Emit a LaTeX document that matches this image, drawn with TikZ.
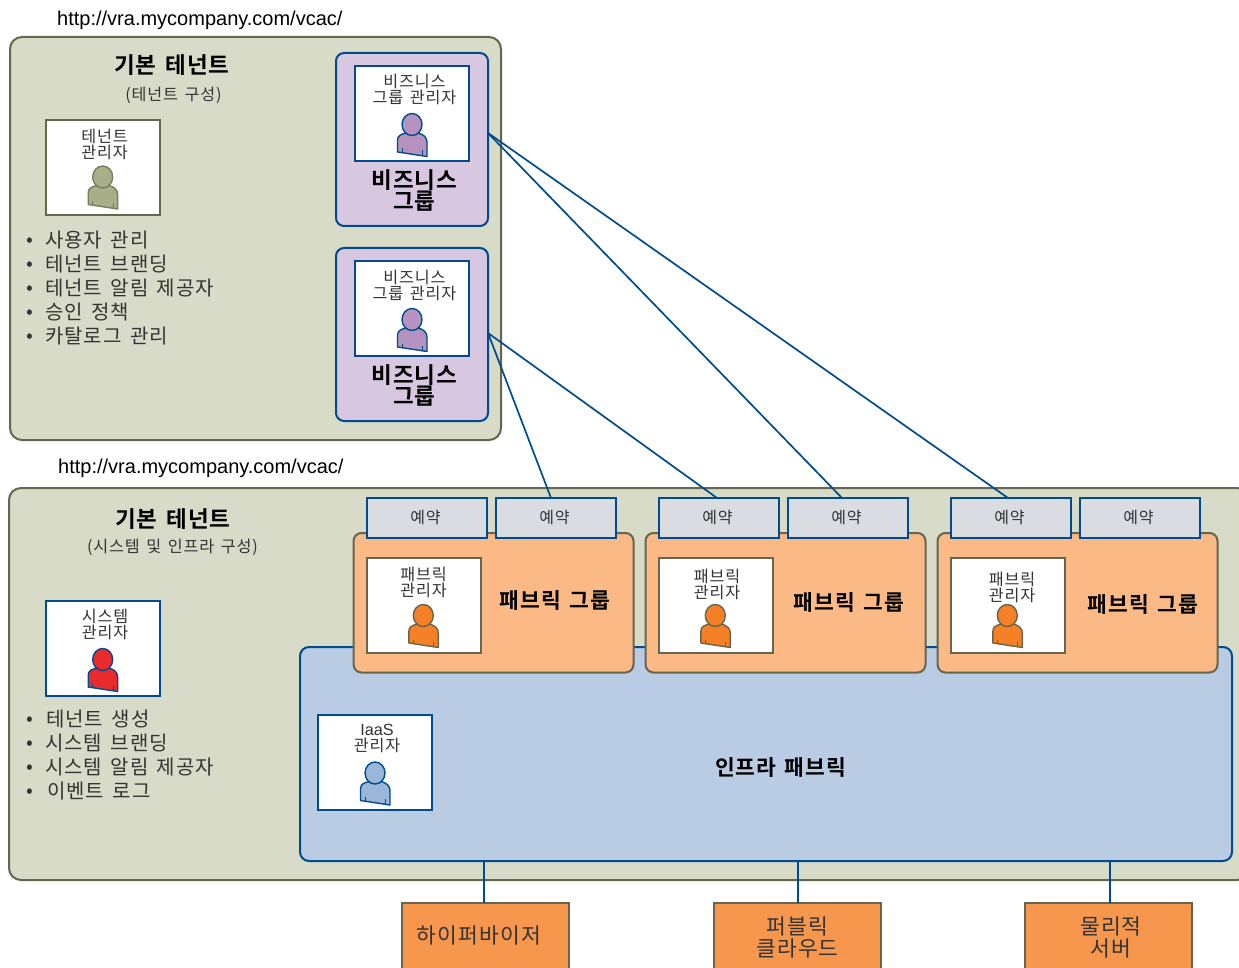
\documentclass[tikz,border=0pt]{standalone}
\usepackage{fontspec}
\setmainfont{Noto Sans CJK KR}[LetterSpace=5,WordSpace=1.5]
\newfontfamily\urlfont{Liberation Sans}
\newfontfamily\krb[BoldFont={Noto Sans CJK KR Bold},LetterSpace=4,WordSpace=1.5]{Noto Sans CJK KR}
\definecolor{tenantfill}{HTML}{D8DBC8}
\definecolor{olive}{HTML}{66664F}
\definecolor{navy}{HTML}{004B8D}
\definecolor{purplefill}{HTML}{D7C7E1}
\definecolor{orangefill}{HTML}{FBB986}
\definecolor{resfill}{HTML}{D9DDE1}
\definecolor{bluefill}{HTML}{B9CCE4}
\definecolor{boxfill}{HTML}{F7974D}
\definecolor{pOlive}{HTML}{A8AE87}
\definecolor{pPurple}{HTML}{B692C1}
\definecolor{pOrange}{HTML}{F58025}
\definecolor{pRed}{HTML}{E92B2E}
\definecolor{pBlue}{HTML}{9AB7D9}
\definecolor{ink}{HTML}{333333}
\tikzset{
  x=1pt,y=-1pt,
  panel/.style={rectangle,rounded corners=#1,draw=olive,fill=tenantfill,line width=2pt,outer sep=0pt,inner sep=0pt},
  bizgroup/.style={rectangle,rounded corners=8pt,draw=navy,fill=purplefill,line width=2pt,minimum width=152pt,minimum height=173pt,outer sep=0pt},
  fabgroup/.style={rectangle,rounded corners=8pt,draw=olive,fill=orangefill,line width=2pt,minimum width=280pt,minimum height=139.5pt,outer sep=0pt},
  infra/.style={rectangle,rounded corners=9pt,draw=navy,fill=bluefill,line width=2pt,minimum width=932pt,minimum height=214pt,outer sep=0pt},
  mgrbox/.style={rectangle,draw=#1,fill=white,line width=2pt,minimum width=114pt,minimum height=95pt,outer sep=0pt},
  resbox/.style={rectangle,draw=navy,fill=resfill,line width=2pt,minimum width=120.5pt,minimum height=40pt,outer sep=0pt,
     font=\fontsize{16}{16}\selectfont,text=ink,inner sep=0pt},
  resource/.style={rectangle,draw=olive,fill=boxfill,line width=2pt,minimum width=167pt,minimum height=80pt,outer sep=0pt},
  conn/.style={draw=navy,line width=1.7pt},
  small/.style={font=\fontsize{16.2}{16}\selectfont,text=ink,align=center,inner sep=0pt},
  head/.style={font=\krb\bfseries\fontsize{22.5}{21.5}\selectfont,text=black,align=center,inner sep=0pt},
  headb/.style={font=\krb\bfseries\fontsize{21.5}{22}\selectfont,text=black,align=center,inner sep=0pt},
  urltext/.style={font=\urlfont\fontsize{20}{22}\selectfont,text=black,inner sep=0pt},
  listtext/.style={font=\fontsize{20}{24}\selectfont,text=ink,align=left,anchor=north west,inner sep=0pt},
  restext/.style={font=\fontsize{21.5}{22.5}\selectfont,text=ink,align=center,inner sep=0pt},
  pics/person/.style 2 args={code={
    \draw[fill=#1,draw=#2,line width=1.4pt,line join=round]
      (-14.5,27.5) -- (-14.5,16) .. controls (-14.5,11) and (-11,9.5) .. (-5,8.5)
      -- (6,8.5) .. controls (12,10) and (15,13) .. (15,18) -- (15,32) -- cycle;
    \draw[draw=#2,line width=0.7pt] (-10,24) -- (-10,28.2) (10.5,26) -- (10.5,31.5);
    \draw[fill=#1,draw=#2,line width=1.4pt] (0,0) ellipse [x radius=10,y radius=11];
  }}
}
\newcommand{\itemline}[1]{\hbox to 19pt{\raisebox{1pt}{•}\hss}#1}
\begin{document}
\begin{tikzpicture}
\useasboundingbox (0,0) rectangle (1239,968);
\fill[white] (0,0) rectangle (1239,968);

% top tenant
\node[urltext,anchor=west] (url1) at (57,20) {http://vra.mycompany.com/vcac/};
\node[panel=12pt,minimum width=491pt,minimum height=403pt] (tenant1) at (255.5,238.5) {};
\node[head] (t1title) at (172,65.5) {기본 테넌트};
\node[small] (t1sub) at (173.5,95.5) {(테넌트 구성)};
\node[mgrbox=olive] (tmgr) at (103,167.5) {};
\node[small] (tmgrtext) at (104.5,144) {테넌트\\관리자};
\pic at (102.7,177) {person={pOlive}{olive!70!pOlive}};
\node[listtext] (t1list) at (26,230.5) {\itemline{사용자 관리}\\\itemline{테넌트 브랜딩}\\\itemline{테넌트 알림 제공자}\\\itemline{승인 정책}\\\itemline{카탈로그 관리}};

\node[bizgroup] (bg1) at (412,139.5) {};
\node[mgrbox=navy] (bg1m) at (412,113.5) {};
\node[small] (bg1mt) at (414.5,89) {비즈니스\\그룹 관리자};
\pic at (412,124.5) {person={pPurple}{navy}};
\node[head] (bg1t) at (414.5,190.5) {비즈니스\\그룹};

\node[bizgroup] (bg2) at (412,334.5) {};
\node[mgrbox=navy] (bg2m) at (412,308.5) {};
\node[small] (bg2mt) at (414.5,285) {비즈니스\\그룹 관리자};
\pic at (412,319.5) {person={pPurple}{navy}};
\node[head] (bg2t) at (414.5,385.5) {비즈니스\\그룹};

% bottom tenant
\node[urltext,anchor=west] (url2) at (58,468) {http://vra.mycompany.com/vcac/};
\node[panel=12pt,minimum width=1240pt,minimum height=392pt] (tenant2) at (629,684) {};
\node[head] (t2title) at (173,519.5) {기본 테넌트};
\node[small] (t2sub) at (172.5,547.5) {(시스템 및 인프라 구성)};
\node[mgrbox=navy] (smgr) at (103,648) {};
\node[small] (smgrtext) at (105,624) {시스템\\관리자};
\pic at (102.7,659.5) {person={pRed}{navy}};
\node[listtext] (t2list) at (26,709.5) {\itemline{\kern1pt 테넌트 생성}\\\itemline{시스템 브랜딩}\\\itemline{시스템 알림 제공자}\\\itemline{\kern2pt 이벤트 로그}};

% infrastructure fabric
\node[infra] (fabric) at (766,754) {};
\node[mgrbox=navy] (iaas) at (375,762) {};
\node[small] (iaastext) at (377,738.5) {\urlfont IaaS\\관리자};
\pic at (375,773) {person={pBlue}{navy}};
\node[headb] (fabrict) at (780.5,767) {인프라 패브릭};

% fabric groups
\node[fabgroup] (fg1) at (493.5,602.75) {};
\node[fabgroup] (fg2) at (785.5,602.75) {};
\node[fabgroup] (fg3) at (1077.5,602.75) {};

\node[resbox] (r1) at (427,518) {\hspace*{-3pt}예약};
\node[resbox] (r2) at (556,518) {\hspace*{-3pt}예약};
\node[resbox] (r3) at (719,518) {\hspace*{-3pt}예약};
\node[resbox] (r4) at (848,518) {\hspace*{-3pt}예약};
\node[resbox] (r5) at (1011,518) {\hspace*{-3pt}예약};
\node[resbox] (r6) at (1140,518) {\hspace*{-3pt}예약};

\node[mgrbox=olive] (f1m) at (423.5,605) {};
\node[small] (f1mt) at (423.5,582.5) {패브릭\\관리자};
\pic at (423.3,615.5) {person={pOrange}{olive}};
\node[headb] (f1t) at (555,600.5) {패브릭 그룹};

\node[mgrbox=olive] (f2m) at (715.5,605) {};
\node[small] (f2mt) at (717,584.5) {패브릭\\관리자};
\pic at (715.3,615.5) {person={pOrange}{olive}};
\node[headb] (f2t) at (849,602.5) {패브릭 그룹};

\node[mgrbox=olive] (f3m) at (1007.5,605) {};
\node[small] (f3mt) at (1012,587.5) {패브릭\\관리자};
\pic at (1007.3,615.5) {person={pOrange}{olive}};
\node[headb] (f3t) at (1143,604.5) {패브릭 그룹};

% resources
\node[resource] (hv) at (485,943) {};
\node[restext] (hvt) at (479,935.5) {하이퍼바이저};
\node[resource] (pc) at (797.5,943) {};
\node[restext] (pct) at (797.5,937.5) {퍼블릭\\클라우드};
\node[resource] (ps) at (1108,943) {};
\node[restext] (pst) at (1111,937.5) {물리적\\서버};

% connectors
\draw[conn] ([yshift=6.5pt]bg1.east) -- ([xshift=-6pt]r4.north);
\draw[conn] ([yshift=6.5pt]bg1.east) -- ([xshift=-3pt]r5.north);
\draw[conn] ([yshift=1.5pt]bg2.east) -- ([xshift=-5pt]r2.north);
\draw[conn] ([yshift=1.5pt]bg2.east) -- ([xshift=-2pt]r3.north);
\draw[conn] ([xshift=-1pt]fabric.south -| hv.north) -- ([xshift=-1pt]hv.north);
\draw[conn] ([xshift=0.5pt]fabric.south -| pc.north) -- ([xshift=0.5pt]pc.north);
\draw[conn] ([xshift=2pt]fabric.south -| ps.north) -- ([xshift=2pt]ps.north);
\end{tikzpicture}
\end{document}
